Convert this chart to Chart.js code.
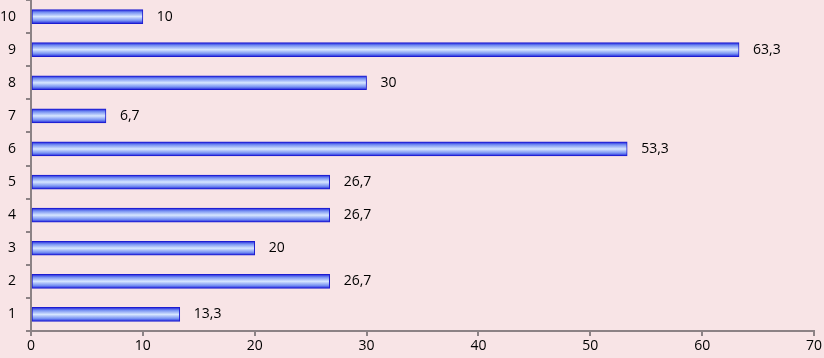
<!DOCTYPE html>
<html lang="ru">
<head>
    <meta charset="UTF-8">
    <title>Диаграмма</title>
    <script src="https://cdn.jsdelivr.net/npm/chart.js"></script>
    <style>
        html, body { margin: 0; padding: 0; background: #f8e4e6; }
        #wrap { width: 824px; height: 358px; }
    </style>
</head>
<body>
    <div id="wrap"><canvas id="myChart"></canvas></div>

    <script>
        // Данные
        const categories = ['1', '2', '3', '4', '5', '6', '7', '8', '9', '10'];
        const values = [13.3, 26.7, 20, 26.7, 26.7, 53.3, 6.7, 30, 63.3, 10];
        const xTicks = [0, 10, 20, 30, 40, 50, 60, 70];

        const fontFamily = "'Open Sans', 'Noto Sans', sans-serif";
        const axisColor = '#8c8285';

        // Градиент для полос
        const barFill = (context) => {
            const chart = context.chart;
            const yScale = chart.scales.y;
            if (!yScale || context.dataIndex === undefined) return '#8fa8f5';
            const yc = yScale.getPixelForValue(context.dataIndex);
            if (!isFinite(yc)) return '#8fa8f5';
            const g = chart.ctx.createLinearGradient(0, yc - 7, 0, yc + 7);
            g.addColorStop(0, '#1e1edc');
            g.addColorStop(0.2, '#7590f2');
            g.addColorStop(0.5, '#d6e6ff');
            g.addColorStop(0.8, '#7590f2');
            g.addColorStop(1, '#1e1edc');
            return g;
        };

        // Подписи значений
        const valueLabels = {
            id: 'valueLabels',
            afterDatasetsDraw(chart) {
                const ctx = chart.ctx;
                const meta = chart.getDatasetMeta(0);
                ctx.save();
                ctx.font = '14px ' + fontFamily;
                ctx.fillStyle = '#000';
                ctx.textBaseline = 'middle';
                ctx.textAlign = 'left';
                meta.data.forEach((bar, i) => {
                    const txt = String(values[i]).replace('.', ',');
                    ctx.fillText(txt, bar.x + 14, bar.y);
                });
                ctx.restore();
            }
        };

        new Chart(document.getElementById('myChart'), {
            type: 'bar',
            data: {
                labels: categories,
                datasets: [{
                    data: values,
                    backgroundColor: barFill,
                    borderColor: '#1c1cd0',
                    borderWidth: 1,
                    borderSkipped: false,
                    barThickness: 14
                }]
            },
            options: {
                indexAxis: 'y',
                responsive: true,
                maintainAspectRatio: false,
                animation: false,
                layout: { padding: { top: 0, right: 9, left: 0, bottom: 0 } },
                plugins: {
                    legend: { display: false },
                    tooltip: { enabled: false }
                },
                scales: {
                    x: {
                        min: 0,
                        max: 70,
                        afterBuildTicks: (scale) => { scale.ticks = xTicks.map(v => ({ value: v })); },
                        afterFit: (scale) => { scale.height = 27; },
                        grid: {
                            display: true,
                            drawOnChartArea: false,
                            drawTicks: true,
                            tickLength: 5,
                            color: axisColor,
                            lineWidth: 2
                        },
                        border: { display: true, color: axisColor, width: 2 },
                        ticks: {
                            color: '#000',
                            font: { size: 14, family: fontFamily },
                            padding: 2,
                            maxRotation: 0
                        }
                    },
                    y: {
                        reverse: true,
                        afterFit: (scale) => {
                            scale.width = 31;
                            scale.paddingTop = 0;
                            scale.paddingBottom = 0;
                        },
                        grid: {
                            display: true,
                            offset: true,
                            drawOnChartArea: false,
                            drawTicks: true,
                            tickLength: 5,
                            color: axisColor,
                            lineWidth: 2
                        },
                        border: { display: true, color: axisColor, width: 2 },
                        ticks: {
                            color: '#000',
                            font: { size: 14, family: fontFamily },
                            padding: 10
                        }
                    }
                }
            },
            plugins: [valueLabels]
        });
    </script>
</body>
</html>
